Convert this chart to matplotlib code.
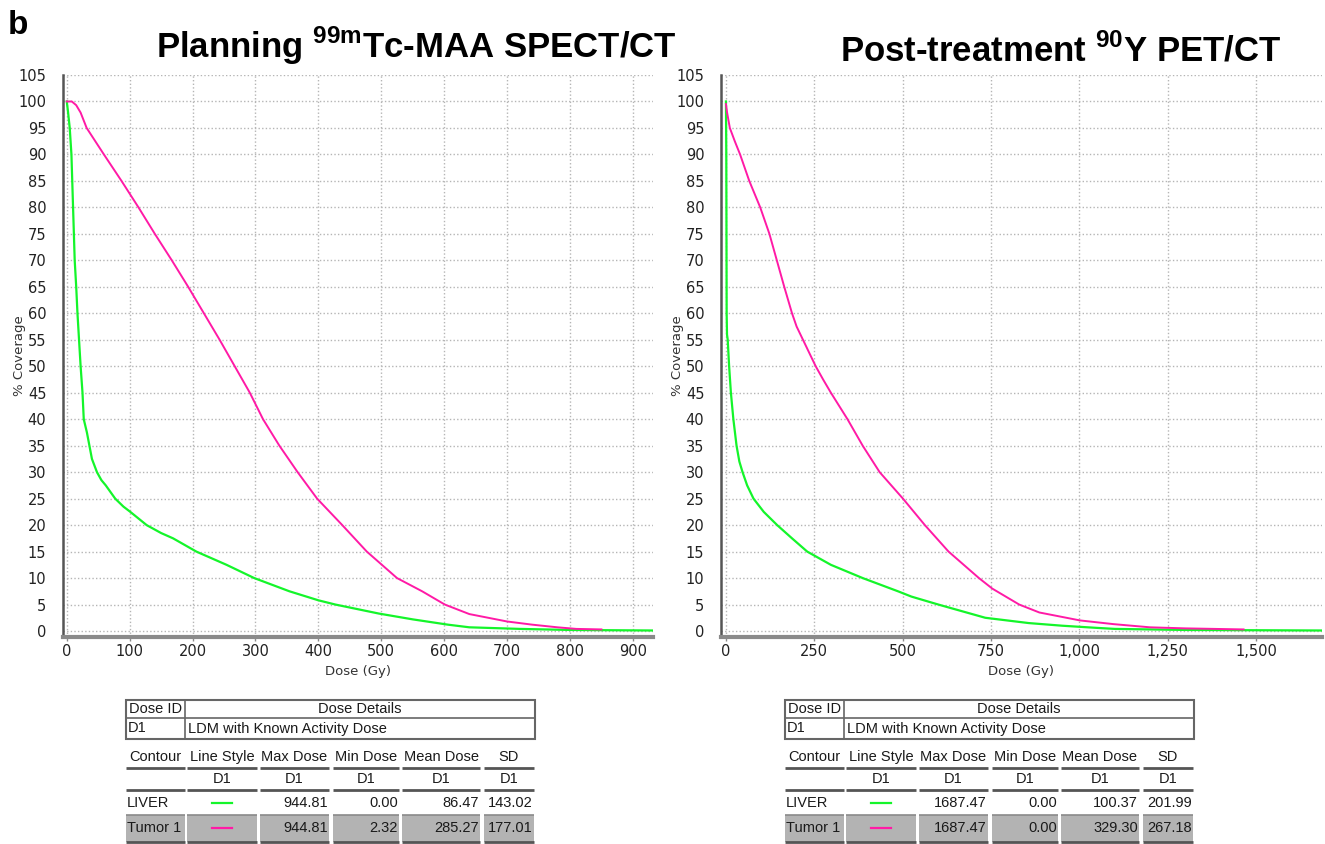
import matplotlib
matplotlib.use("Agg")
import matplotlib.pyplot as plt
from matplotlib.patches import Rectangle
from matplotlib.ticker import FuncFormatter

plt.rcParams['font.family'] = ['DejaVu Sans']
plt.rcParams['mathtext.fontset'] = 'custom'
plt.rcParams['mathtext.rm'] = 'Liberation Sans:bold'
plt.rcParams['mathtext.bf'] = 'Liberation Sans:bold'

# 剂量体积直方图数据 (Dose in Gy, % Coverage)
spect_liver_dose = [0, 2, 4.7, 7.4, 10, 12.6, 15, 17, 19.5, 22, 25, 27, 32, 40, 48, 55, 62, 77, 90, 101,
                    127, 150, 169, 206, 254, 298, 354, 400, 427, 496, 550, 606, 640, 720, 800, 932]
spect_liver_cov = [100, 98, 95, 90, 80, 70, 65, 60, 55, 50, 45, 40, 37.5, 32.5, 30, 28.5, 27.5, 25, 23.5, 22.5,
                   20, 18.5, 17.5, 15, 12.5, 10, 7.5, 5.8, 5, 3.3, 2.2, 1.2, 0.7, 0.4, 0.2, 0.1]
spect_tumor_dose = [0, 8, 15, 22, 31.6, 59, 87, 114, 140, 167, 193, 218, 243, 267, 291, 312, 338, 367, 398,
                    438, 477, 525, 565, 601, 640, 700, 740, 780, 810, 850]
spect_tumor_cov = [100, 100, 99.3, 97.9, 95, 90, 85, 80, 75, 70, 65, 60, 55, 50, 45, 40, 35, 30, 25,
                   20, 15, 10, 7.5, 5, 3.2, 1.8, 1.2, 0.7, 0.4, 0.3]

pet_liver_dose = [0, 1, 2, 3, 5, 9, 14, 21, 30, 38, 47, 60, 78, 107, 145, 187, 230, 297, 387, 487, 525,
                  601, 734, 857, 952, 1048, 1100, 1300, 1687]
pet_liver_cov = [100, 90, 60, 56, 55, 50, 45, 40, 35, 32, 30, 27.5, 25, 22.5, 20, 17.5, 15, 12.5, 10, 7.5, 6.5,
                 5, 2.5, 1.5, 1.0, 0.6, 0.4, 0.2, 0.1]
pet_tumor_dose = [0, 3, 11, 25, 40, 66, 97, 110, 123, 144, 165, 187, 200, 218, 236, 254, 275, 297, 344, 387,
                  435, 501, 563, 630, 716, 754, 830, 887, 1002, 1097, 1200, 1300, 1465]
pet_tumor_cov = [99.5, 98, 95, 92.5, 90, 85, 80, 77.5, 75, 70, 65, 60, 57.5, 55, 52.5, 50, 47.5, 45, 40, 35,
                 30, 25, 20, 15, 10, 8, 5, 3.5, 2, 1.3, 0.7, 0.5, 0.3]

# 表格数据
contours = ["LIVER", "Tumor 1"]
col_headers = ["Contour", "Line Style", "Max Dose", "Min Dose", "Mean Dose", "SD"]
spect_max = [944.81, 944.81]
spect_min = [0.00, 2.32]
spect_mean = [86.47, 285.27]
spect_sd = [143.02, 177.01]
pet_max = [1687.47, 1687.47]
pet_min = [0.00, 0.00]
pet_mean = [100.37, 329.30]
pet_sd = [201.99, 267.18]

yticks = list(range(0, 106, 5))
spect_xticks = list(range(0, 901, 100))
pet_xticks = list(range(0, 1501, 250))

GREEN = '#14f52a'
PINK = '#ff1aa6'
W, H = 1325, 844

fig = plt.figure(figsize=(W / 100, H / 100), dpi=100)
ov = fig.add_axes([0, 0, 1, 1])
ov.set_xlim(0, W)
ov.set_ylim(H, 0)
ov.axis('off')


def make_axes(left_px, right_px, xlim, xticks, fmt):
    ax = fig.add_axes([left_px / W, 1 - 637 / H, (right_px - left_px) / W, (637 - 75) / H])
    ax.set_xlim(*xlim)
    ax.set_ylim(-1.13, 105)
    ax.set_yticks(yticks)
    ax.set_xticks(xticks)
    ax.xaxis.set_major_formatter(FuncFormatter(fmt))
    ax.grid(True, color='#b5b5b5', linestyle=(0, (1, 1.6)), linewidth=1)
    ax.set_axisbelow(True)
    for s in ['top', 'right']:
        ax.spines[s].set_visible(False)
    ax.spines['left'].set_color('#555555')
    ax.spines['left'].set_linewidth(1.8)
    ax.spines['bottom'].set_color('#8a8a8a')
    ax.spines['bottom'].set_linewidth(3)
    ax.tick_params(axis='y', length=0, pad=12, labelsize=10.5, labelcolor='#222222')
    ax.tick_params(axis='x', length=3, width=1, color='#8a8a8a', pad=2, labelsize=10.5, labelcolor='#222222')
    ax.set_ylabel('% Coverage', fontsize=9.5, color='#333333')
    ax.set_xlabel('Dose (Gy)', fontsize=9.5, color='#333333', labelpad=4)
    ax.patch.set_alpha(0)
    return ax


ax1 = make_axes(63, 653, (-6, 932), spect_xticks, lambda v, p: f"{int(v)}")
ax1.plot(spect_liver_dose, spect_liver_cov, color=GREEN, lw=1.6)
ax1.plot(spect_tumor_dose, spect_tumor_cov, color=PINK, lw=1.4)

ax2 = make_axes(721, 1322, (-14, 1687), pet_xticks, lambda v, p: f"{int(v):,}")
ax2.plot(pet_liver_dose, pet_liver_cov, color=GREEN, lw=1.6)
ax2.plot(pet_tumor_dose, pet_tumor_cov, color=PINK, lw=1.4)
ax1.yaxis.set_label_coords(-0.062, 0.5)
ax2.yaxis.set_label_coords(-0.061, 0.5)

# 标题
ov.text(8, 26, 'b', fontsize=24, fontweight='bold', family='Liberation Sans', va='center', ha='left')
ov.text(416, 46, r'Planning $^{\mathrm{99m}}$Tc-MAA SPECT/CT', fontsize=25, fontweight='bold',
        family='Liberation Sans', ha='center', va='center')
ov.text(1061, 51, r'Post-treatment $^{\mathrm{90}}$Y PET/CT', fontsize=25, fontweight='bold',
        family='Liberation Sans', ha='center', va='center')

# 表格
cols = [(0, 59), (61, 131), (134, 203), (207, 273), (276, 354), (358, 408)]
tfont = dict(family='Liberation Sans', fontsize=10.5, color='#1a1a1a', va='center')


def draw_table(x0, vmax, vmin, vmean, vsd):
    # 上方 Dose ID 框
    ov.add_patch(Rectangle((x0, 700), 409, 39, fill=False, ec='#666666', lw=1.5))
    ov.plot([x0, x0 + 409], [718, 718], color='#666666', lw=1.2)
    ov.plot([x0 + 59, x0 + 59], [700, 739], color='#666666', lw=1.2)
    ov.text(x0 + 30, 709, 'Dose ID', ha='center', **tfont)
    ov.text(x0 + 234, 709, 'Dose Details', ha='center', **tfont)
    ov.text(x0 + 2, 728.5, 'D1', ha='left', **tfont)
    ov.text(x0 + 62, 728.5, 'LDM with Known Activity Dose', ha='left', **tfont)
    # 灰色底行
    for a, b in cols:
        ov.add_patch(Rectangle((x0 + a, 815), b - a, 27, color='#b3b3b3', lw=0))
    for i, (a, b) in enumerate(cols):
        ov.text(x0 + (a + b) / 2, 757, col_headers[i], ha='center', **tfont)
        ov.plot([x0 + a, x0 + b], [768, 768], color='#555555', lw=2, solid_capstyle='butt')
        if i > 0:
            ov.text(x0 + (a + b) / 2, 779, 'D1', ha='center', **tfont)
        ov.plot([x0 + a, x0 + b], [790, 790], color='#555555', lw=2, solid_capstyle='butt')
        ov.plot([x0 + a, x0 + b], [815, 815], color='#8a8a8a', lw=1.2, solid_capstyle='butt')
        ov.plot([x0 + a, x0 + b], [842, 842], color='#555555', lw=2, solid_capstyle='butt')
    for r, yy in enumerate([803, 828]):
        ov.text(x0 + 1, yy, contours[r], ha='left', **tfont)
        lc = GREEN if r == 0 else PINK
        mid = (cols[1][0] + cols[1][1]) / 2
        ov.plot([x0 + mid - 10, x0 + mid + 10], [yy, yy], color=lc, lw=1.6)
        for c, vals in zip(cols[2:], [vmax, vmin, vmean, vsd]):
            ov.text(x0 + c[1] - 1, yy, f"{vals[r]:.2f}", ha='right', **tfont)


draw_table(126, spect_max, spect_min, spect_mean, spect_sd)
draw_table(785, pet_max, pet_min, pet_mean, pet_sd)

fig.savefig('out.png', dpi=100)
